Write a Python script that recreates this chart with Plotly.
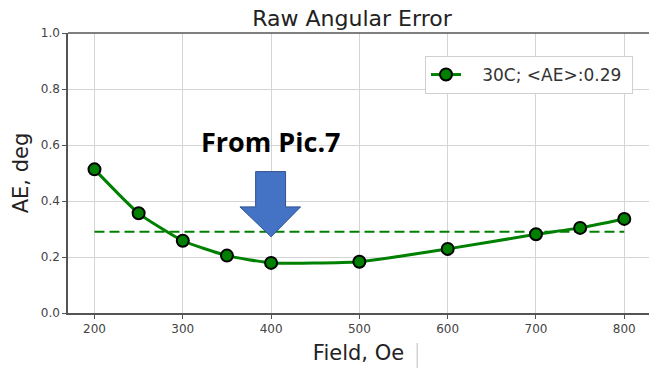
import plotly.graph_objects as go

field = [200, 250, 300, 350, 400, 500, 600, 700, 750, 800]
ae = [0.513, 0.356, 0.258, 0.205, 0.179, 0.183, 0.229, 0.281, 0.304, 0.336]
mean_ae = 0.29
series_name = "&nbsp;&nbsp;&nbsp;30C; &lt;AE&gt;:0.29&nbsp;"
x_ticks = [200, 300, 400, 500, 600, 700, 800]
y_ticks = [0.0, 0.2, 0.4, 0.6, 0.8, 1.0]

# arrow outline in data coordinates (Field, AE)
arrow_x = [382.5, 416.4, 416.4, 433.4, 400.0, 364.7, 382.5, 382.5]
arrow_y = [0.505, 0.505, 0.379, 0.379, 0.272, 0.379, 0.379, 0.505]

fig = go.Figure()
fig.add_trace(go.Scatter(
    x=[field[0], field[-1]], y=[mean_ae, mean_ae], mode="lines",
    line=dict(color="#008000", width=2, dash="10px,5px"), showlegend=False, hoverinfo="skip"))
fig.add_trace(go.Scatter(
    x=field, y=ae, mode="lines+markers", name=series_name,
    line=dict(color="#008000", width=3, shape="spline", smoothing=0.5),
    marker=dict(color="#008000", size=12, line=dict(color="black", width=2))))

path = "M " + " L ".join(f"{a},{b}" for a, b in zip(arrow_x, arrow_y)) + " Z"
fig.add_shape(type="path", path=path, xref="x", yref="y",
              fillcolor="#4472C4", line=dict(color="#2F528F", width=1), layer="above")

# top spine (right spine falls outside the picture)
fig.add_shape(type="line", xref="paper", yref="paper", x0=0, x1=1, y0=1, y1=1,
              line=dict(color="#555", width=1.5))
# thin cursor bar next to the x-axis title
fig.add_shape(type="line", xref="paper", yref="paper", x0=0.601, x1=0.601, y0=-0.107, y1=-0.196,
              line=dict(color="#bbbbbb", width=1))

fig.add_annotation(text="<b>From Pic.7</b>", x=400, y=0.612, xref="x", yref="y",
                   showarrow=False, font=dict(family="Open Sans", size=27, color="black"))

fig.update_layout(
    width=649, height=368,
    margin=dict(l=68, r=0, t=33, b=55),
    paper_bgcolor="white", plot_bgcolor="white",
    title=dict(text="Raw Angular Error", x=352 / 649, xanchor="center", y=1 - 18 / 368, yanchor="middle",
               font=dict(family="DejaVu Sans", size=22, color="#222")),
    font=dict(family="DejaVu Sans", color="#444"),
    xaxis=dict(range=[170, 828], tickvals=x_ticks, showgrid=True, gridcolor="#d4d4d4", gridwidth=1.2,
               showline=True, linecolor="#555", linewidth=1.5, mirror=False, ticks="outside", ticklen=4,
               tickcolor="#555", tickfont=dict(size=12, color="#444"), zeroline=False,
               title=dict(text="Field, Oe", font=dict(size=21, color="#222"), standoff=10)),
    yaxis=dict(range=[0, 1], tickvals=y_ticks, tickformat=".1f", showgrid=True, gridcolor="#d4d4d4",
               gridwidth=1.2, showline=True, linecolor="#555", linewidth=1.5, mirror=False, ticks="outside",
               ticklen=4, tickcolor="#555", tickfont=dict(size=12, color="#444"), zeroline=False,
               title=dict(text="AE, deg", font=dict(size=21, color="#222"), standoff=6)),
    legend=dict(x=(425 - 68) / 581, y=(313 - 56) / 280, xanchor="left", yanchor="top", bgcolor="white",
                bordercolor="#d0d0d0", borderwidth=1, font=dict(size=17, color="#333"),
                itemwidth=30),
)

fig.write_html("out.html")
